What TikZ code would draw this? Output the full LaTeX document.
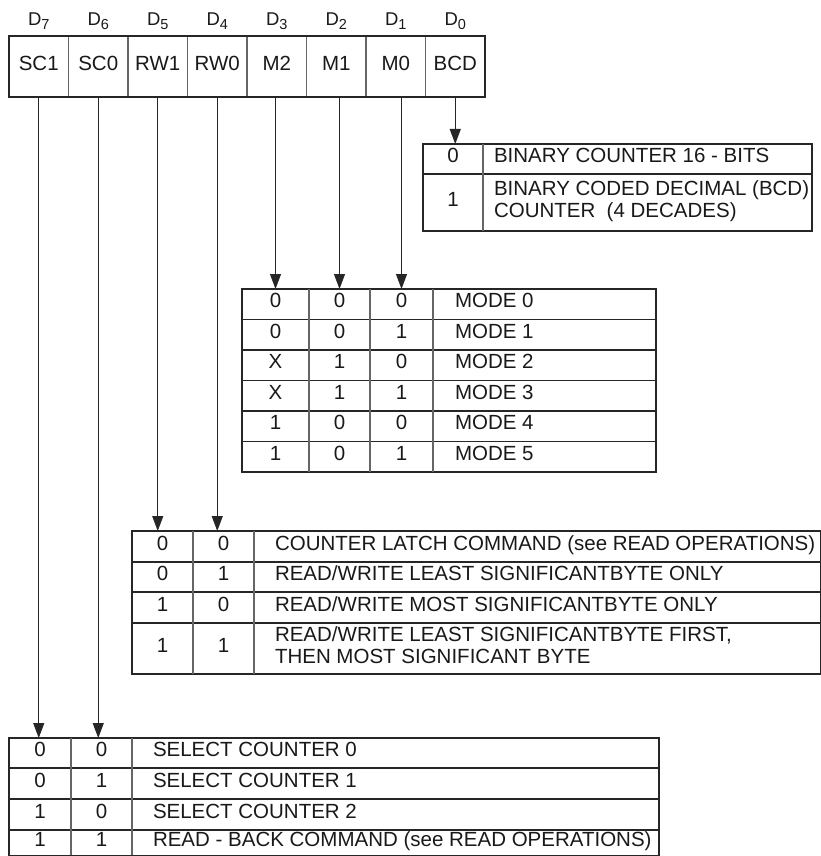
\documentclass[tikz,border=0pt]{standalone}
\usepackage{fontspec}
\setmainfont{Liberation Sans}
\usetikzlibrary{arrows.meta}
\begin{document}
\begin{tikzpicture}[x=1pt,y=-1pt,
  every node/.style={font=\fontsize{20.5}{22}\selectfont, inner sep=0pt, outer sep=0pt, text=black!90},
  ctext/.style={anchor=center, text height=0.72em, text depth=0pt},
  ltext/.style={anchor=west, text height=0.72em, text depth=0pt},
  regcell/.style={draw=black!60, line width=1.1, minimum width=59.5, minimum height=61, text height=0.72em, text depth=0pt},
  dlabel/.style={font=\fontsize{18.5}{20}\selectfont, anchor=center},
  tline/.style={draw=black!85, line width=1.2},
  dline/.style={draw=black!60, line width=1.1},
  arr/.style={draw=black!85, line width=1.1, -{Triangle[width=11,length=15]}}
]
\useasboundingbox (0,0) rectangle (821,856);

% ---------- register ----------
\node[regcell] (r7) at (38.75,66.5) {SC1};
\node[regcell] (r6) at (98.25,66.5) {SC0};
\node[regcell] (r5) at (157.75,66.5) {RW1};
\node[regcell] (r4) at (217.25,66.5) {RW0};
\node[regcell] (r3) at (276.75,66.5) {M2};
\node[regcell] (r2) at (336.25,66.5) {M1};
\node[regcell] (r1) at (395.75,66.5) {M0};
\node[regcell] (r0) at (455.25,66.5) {BCD};
\draw[tline] (r7.north west) rectangle (r0.south east);

\newcommand{\dsub}[1]{D\raisebox{-4.5pt}{\fontsize{14.5}{14.5}\selectfont #1}}
\node[dlabel] (d7) at (38.75,21) {\dsub{7}};
\node[dlabel] (d6) at (98.25,21) {\dsub{6}};
\node[dlabel] (d5) at (157.75,21) {\dsub{5}};
\node[dlabel] (d4) at (217.25,21) {\dsub{4}};
\node[dlabel] (d3) at (276.75,21) {\dsub{3}};
\node[dlabel] (d2) at (336.25,21) {\dsub{2}};
\node[dlabel] (d1) at (395.75,21) {\dsub{1}};
\node[dlabel] (d0) at (455.25,21) {\dsub{0}};

% ---------- BCD table ----------
\draw[tline] (423,144) rectangle (812,231);
\draw[tline] (423,174) -- (812,174);
\draw[dline] (483,144) -- (483,231);
\node[ctext] (b0) at (453,159) {0};
\node[ctext] (b1) at (453,202.5) {1};
\node[ltext] (b0t) at (494,159) {BINARY COUNTER 16 - BITS};
\node[ltext] (b1ta) at (494,191.5) {BINARY CODED DECIMAL (BCD)};
\node[ltext] (b1tb) at (494,214) {COUNTER\ \ (4 DECADES)};

% ---------- mode table ----------
\draw[tline] (242,289) rectangle (656,472);
\foreach \k in {1,...,5} \draw[tline] (242,289+30.5*\k) -- (656,289+30.5*\k);
\foreach \x in {309,370,433} \draw[dline] (\x,289) -- (\x,472);
\node[ctext] (m2) at (275.5,304.25) {0};
\node[ctext] (m1) at (339.5,304.25) {0};
\node[ctext] (m0) at (401.5,304.25) {0};
\node[ltext] (mt0) at (455,304.25) {MODE 0};
\node[ctext] (m2b) at (275.5,334.75) {0};
\node[ctext] (m1b) at (339.5,334.75) {0};
\node[ctext] (m0b) at (401.5,334.75) {1};
\node[ltext] (mt1) at (455,334.75) {MODE 1};
\node[ctext] (m2c) at (275.5,365.25) {X};
\node[ctext] (m1c) at (339.5,365.25) {1};
\node[ctext] (m0c) at (401.5,365.25) {0};
\node[ltext] (mt2) at (455,365.25) {MODE 2};
\node[ctext] (m2d) at (275.5,395.75) {X};
\node[ctext] (m1d) at (339.5,395.75) {1};
\node[ctext] (m0d) at (401.5,395.75) {1};
\node[ltext] (mt3) at (455,395.75) {MODE 3};
\node[ctext] (m2e) at (275.5,426.25) {1};
\node[ctext] (m1e) at (339.5,426.25) {0};
\node[ctext] (m0e) at (401.5,426.25) {0};
\node[ltext] (mt4) at (455,426.25) {MODE 4};
\node[ctext] (m2f) at (275.5,456.75) {1};
\node[ctext] (m1f) at (339.5,456.75) {0};
\node[ctext] (m0f) at (401.5,456.75) {1};
\node[ltext] (mt5) at (455,456.75) {MODE 5};

% ---------- read/write table ----------
\draw[tline] (132,531) rectangle (820.3,674);
\foreach \y in {562,592,623} \draw[tline] (132,\y) -- (820.3,\y);
\foreach \x in {193,254} \draw[dline] (\x,531) -- (\x,674);
\node[ctext] (w1) at (162.5,546.5) {0};
\node[ctext] (w0) at (223.5,546.5) {0};
\node[ltext] (wt0) at (275,546.5) {COUNTER LATCH COMMAND (see READ OPERATIONS)};
\node[ctext] (w1b) at (162.5,577) {0};
\node[ctext] (w0b) at (223.5,577) {1};
\node[ltext] (wt1) at (275,577) {READ/WRITE LEAST SIGNIFICANTBYTE ONLY};
\node[ctext] (w1c) at (162.5,607.5) {1};
\node[ctext] (w0c) at (223.5,607.5) {0};
\node[ltext] (wt2) at (275,607.5) {READ/WRITE MOST SIGNIFICANTBYTE ONLY};
\node[ctext] (w1d) at (162.5,648.5) {1};
\node[ctext] (w0d) at (223.5,648.5) {1};
\node[ltext] (wt3a) at (275,637.5) {READ/WRITE LEAST SIGNIFICANTBYTE FIRST,};
\node[ltext] (wt3b) at (275,659.5) {THEN MOST SIGNIFICANT BYTE};

% ---------- select counter table ----------
\draw[tline] (9,738) rectangle (659,855.4);
\foreach \y in {768,799,830} \draw[tline] (9,\y) -- (659,\y);
\foreach \x in {71,132} \draw[dline] (\x,738) -- (\x,855.4);
\node[ctext] (s1) at (40,753) {0};
\node[ctext] (s0) at (101.5,753) {0};
\node[ltext] (st0) at (153,753) {SELECT COUNTER 0};
\node[ctext] (s1b) at (40,783.5) {0};
\node[ctext] (s0b) at (101.5,783.5) {1};
\node[ltext] (st1) at (153,783.5) {SELECT COUNTER 1};
\node[ctext] (s1c) at (40,814.5) {1};
\node[ctext] (s0c) at (101.5,814.5) {0};
\node[ltext] (st2) at (153,814.5) {SELECT COUNTER 2};
\node[ctext] (s1d) at (40,843) {1};
\node[ctext] (s0d) at (101.5,843) {1};
\node[ltext] (st3) at (153,843) {READ - BACK COMMAND (see READ OPERATIONS)};

% ---------- connectors ----------
\coordinate (bcdtop) at (455.25,144);
\coordinate (mtop) at (0,289);
\coordinate (wtop) at (0,531);
\coordinate (stop) at (0,738);
\draw[arr] (r0.south) -- (bcdtop);
\draw[arr] (m2 |- r3.south) -- (m2 |- mtop);
\draw[arr] (m1 |- r2.south) -- (m1 |- mtop);
\draw[arr] (m0 |- r1.south) -- (m0 |- mtop);
\draw[arr] (r5.south) -- (r5.south |- wtop);
\draw[arr] (r4.south) -- (r4.south |- wtop);
\draw[arr] (r7.south) -- (r7.south |- stop);
\draw[arr] (r6.south) -- (r6.south |- stop);
\end{tikzpicture}
\end{document}
